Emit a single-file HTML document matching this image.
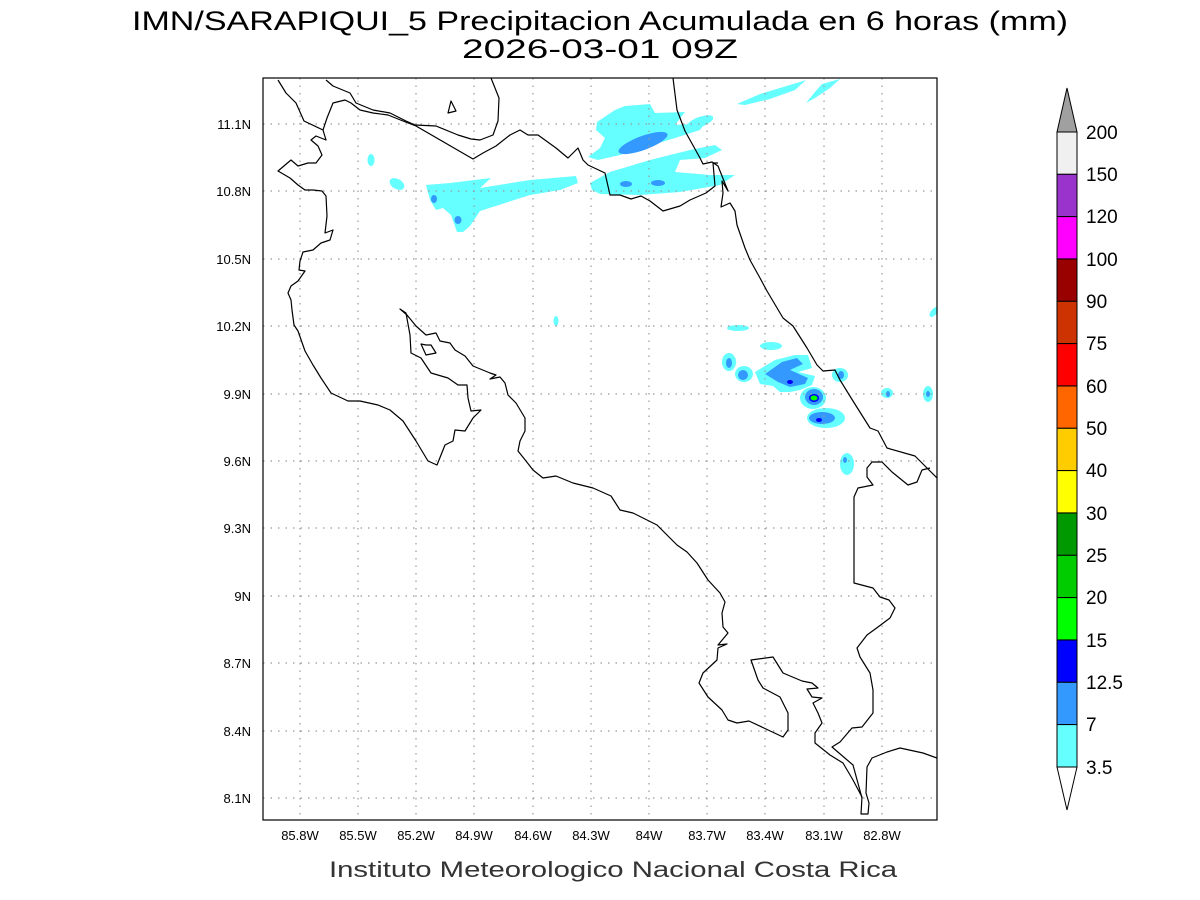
<!DOCTYPE html>
<html><head><meta charset="utf-8"><style>
html,body{margin:0;padding:0;background:#fff;}
svg{display:block;font-family:"Liberation Sans",sans-serif;}
</style></head><body>
<svg width="1200" height="900" viewBox="0 0 1200 900" xmlns="http://www.w3.org/2000/svg">
<rect width="1200" height="900" fill="#fff"/>
<text x="600" y="30" font-size="27" text-anchor="middle" textLength="936" lengthAdjust="spacingAndGlyphs">IMN/SARAPIQUI_5 Precipitacion Acumulada en 6 horas (mm)</text>
<text x="600" y="58" font-size="27" text-anchor="middle" textLength="276" lengthAdjust="spacingAndGlyphs">2026-03-01 09Z</text>

<g clip-path="url(#c)">
<clipPath id="c"><rect x="263" y="78" width="674" height="742"/></clipPath>
<!-- precip -->
<g fill="#66ffff">
<path d="M737,104 L760,94 L800,82 L806,80 L795,90 L770,99 L745,105Z"/>
<path d="M806,103 L815,92 L822,84 L840,79 L830,88 L815,98Z"/>
<path d="M597,122 L615,110 L625,106 L650,104 L655,113 L685,112 L675,125 L705,123 L700,130 L675,138 L620,155 L598,160 L588,157 L600,148 L605,138 L596,130Z"/>
<path d="M590,183 L610,172 L650,160 L690,150 L715,145 L722,150 L705,158 L680,160 L675,172 L710,175 L735,175 L720,185 L680,192 L640,195 L600,194 L592,190Z"/>
<ellipse cx="700" cy="122" rx="14" ry="5" transform="rotate(-20 700 122)"/>
<path d="M426,185 L450,183 L491,178 L480,188 L530,180 L576,176 L578,183 L560,190 L530,195 L480,211 L470,226 L463,232 L457,232 L451,215 L443,208 L436,210 L430,200Z"/>
<ellipse cx="371" cy="160" rx="3.5" ry="6"/>
<ellipse cx="397" cy="184" rx="8" ry="5" transform="rotate(30 397 184)"/>
<ellipse cx="556" cy="321" rx="2.5" ry="5"/>
<ellipse cx="738" cy="328" rx="11" ry="3"/>
<ellipse cx="771" cy="346" rx="11" ry="4"/>
<ellipse cx="729" cy="362" rx="7" ry="9"/>
<ellipse cx="744" cy="374" rx="9" ry="8"/>
<path d="M755,372 L775,360 L795,355 L808,355 L812,368 L798,372 L815,376 L812,385 L800,390 L790,392 L780,392 L773,386 L760,384Z"/>
<ellipse cx="813" cy="398" rx="13" ry="11"/>
<ellipse cx="826" cy="418" rx="19" ry="10"/>
<ellipse cx="840" cy="375" rx="8" ry="7"/>
<ellipse cx="887" cy="393" rx="6" ry="5"/>
<ellipse cx="928" cy="394" rx="5" ry="8"/>
<ellipse cx="847" cy="464" rx="7" ry="11"/>
<ellipse cx="934" cy="312" rx="3" ry="6" transform="rotate(40 934 312)"/>
</g>
<g fill="#3399ff">
<ellipse cx="643" cy="143" rx="26" ry="7" transform="rotate(-20 643 143)"/>
<ellipse cx="626" cy="184" rx="6" ry="3"/>
<ellipse cx="658" cy="183" rx="7" ry="3"/>
<ellipse cx="434" cy="199" rx="3" ry="4"/>
<ellipse cx="458" cy="220" rx="3.5" ry="4"/>
<ellipse cx="729" cy="363" rx="3" ry="5"/>
<ellipse cx="743" cy="375" rx="5" ry="5"/>
<path d="M765,374 L782,362 L797,358 L803,364 L790,370 L808,378 L805,384 L790,387 L778,382Z"/>
<ellipse cx="814" cy="397" rx="9" ry="8"/>
<ellipse cx="822" cy="418" rx="13" ry="6"/>
<ellipse cx="841" cy="375" rx="3" ry="4"/>
<ellipse cx="888" cy="394" rx="2" ry="3"/>
<ellipse cx="928" cy="394" rx="2" ry="3"/>
<ellipse cx="845" cy="460" rx="2" ry="3"/>
</g>
<g fill="#0000ff">
<ellipse cx="790" cy="382" rx="3" ry="2"/>
<ellipse cx="814" cy="398" rx="5" ry="4"/>
<ellipse cx="819" cy="420" rx="3" ry="2"/>
</g>
<ellipse cx="814" cy="398" rx="3.5" ry="2.5" fill="#00ff00"/>

<!-- grid -->
<g stroke="#999" stroke-width="1.2" stroke-dasharray="1.5,6">
<line x1="300" y1="78" x2="300" y2="820"/><line x1="358" y1="78" x2="358" y2="820"/><line x1="416" y1="78" x2="416" y2="820"/><line x1="474" y1="78" x2="474" y2="820"/><line x1="533" y1="78" x2="533" y2="820"/><line x1="591" y1="78" x2="591" y2="820"/><line x1="649" y1="78" x2="649" y2="820"/><line x1="707" y1="78" x2="707" y2="820"/><line x1="765" y1="78" x2="765" y2="820"/><line x1="824" y1="78" x2="824" y2="820"/><line x1="882" y1="78" x2="882" y2="820"/>
<line x1="263" y1="124" x2="937" y2="124"/><line x1="263" y1="191" x2="937" y2="191"/><line x1="263" y1="259" x2="937" y2="259"/><line x1="263" y1="326" x2="937" y2="326"/><line x1="263" y1="394" x2="937" y2="394"/><line x1="263" y1="461" x2="937" y2="461"/><line x1="263" y1="528" x2="937" y2="528"/><line x1="263" y1="596" x2="937" y2="596"/><line x1="263" y1="663" x2="937" y2="663"/><line x1="263" y1="731" x2="937" y2="731"/><line x1="263" y1="798" x2="937" y2="798"/>
</g>

<!-- coasts -->
<g fill="none" stroke="#000" stroke-width="1.2" stroke-linejoin="round">
<polyline points="278,80 286,93 296,103 304,121 323,130 326,140 316,136 311,140 318,146 322,155 316,163 308,163 298,166 291,160 278,171 290,178 298,185 305,190 313,190 322,191 326,196 327,216 325,233 333,230 330,240 321,243 313,250 303,252 300,261 299,270 305,271 298,281 291,286 288,293 291,300 292,310 294,325 298,331 305,351 313,365 321,378 331,393 348,401 360,401 378,405 390,410 403,421 416,441 428,461 437,465 445,445 453,441 455,430 465,431 473,418 481,410 471,411 468,398 467,385 458,385 448,378 431,373 421,358 411,353 410,335 406,313 400,309 407,315 416,326 426,335 436,333 440,341 450,343 455,350 465,356 473,366 490,373 496,375 490,379 500,377 505,383 508,395 516,403 525,418 525,431 520,441 518,451 526,461 533,470 543,478 556,476 573,483 593,488 611,496 620,510 633,513 657,525 677,545 687,552 697,563 708,580 720,593 725,602 722,613 723,627 728,633 718,645 727,644 718,648 717,660 703,673 699,683 708,697 722,710 728,720 737,723 749,721 783,737 788,730 788,713 780,697 763,688 758,680 751,660 773,657 783,673 802,681 812,683 818,688 807,689 812,697 822,698 813,703 818,713 822,723 815,733 815,743 830,755 843,763 853,780 862,797 861,814 868,814 869,803 866,793 867,767 872,758 887,752 900,748 923,753 937,758"/>
<polyline points="862,798 853,765 832,747 840,742 852,728 862,727 873,713 873,690 870,673 860,657 857,648 867,635 878,627 890,618 895,608 889,600 880,597 873,588 854,583 854,497 858,488 873,485 867,477 867,468 872,462 882,462 892,472 908,485 917,482 922,470 930,468"/>
<polyline points="673,78 677,110 685,131 700,158 703,164 712,162 718,166 728,191 722,181 723,193 721,207 730,203 735,211 737,225 745,248 750,260 760,278 767,291 783,318 793,326 807,348 817,365 823,371 835,370 840,380 853,401 870,428 878,431 887,448 915,456 927,468 937,478"/>
<polyline points="323,130 327,118 333,103 345,100 351,103 360,110 373,113 388,115 403,121 416,126 473,159 483,153 496,146 510,135 520,130 528,135 538,135 556,148 568,158 578,148 583,160 588,165 605,173 610,195 620,195 631,199 641,196 650,201 663,211 680,206 690,200 706,193 715,186 713,163 718,163"/>
<polyline points="326,80 333,86 350,93 356,103 373,110 390,113 406,121 415,125 436,126 458,135 471,139 480,140 493,135 498,121 499,98 491,78"/>
<polygon points="448,113 451,101 456,111"/>
<polygon points="421,344 426,345 431,345 436,353 426,355"/>
</g>
</g>
<rect x="263" y="78" width="674" height="742" fill="none" stroke="#000" stroke-width="1.2"/>

<!-- axis labels -->
<g font-size="13" text-anchor="end">
<text x="251" y="129">11.1N</text><text x="251" y="196">10.8N</text><text x="251" y="264">10.5N</text><text x="251" y="331">10.2N</text><text x="251" y="399">9.9N</text><text x="251" y="466">9.6N</text><text x="251" y="533">9.3N</text><text x="251" y="601">9N</text><text x="251" y="668">8.7N</text><text x="251" y="736">8.4N</text><text x="251" y="803">8.1N</text>
</g>
<g font-size="13" text-anchor="middle">
<text x="300" y="840">85.8W</text><text x="358" y="840">85.5W</text><text x="416" y="840">85.2W</text><text x="474" y="840">84.9W</text><text x="533" y="840">84.6W</text><text x="591" y="840">84.3W</text><text x="649" y="840">84W</text><text x="707" y="840">83.7W</text><text x="765" y="840">83.4W</text><text x="824" y="840">83.1W</text><text x="882" y="840">82.8W</text>
</g>
<text x="613" y="877" font-size="22" text-anchor="middle" fill="#333" textLength="568" lengthAdjust="spacingAndGlyphs">Instituto Meteorologico Nacional Costa Rica</text>

<!-- colorbar -->
<g stroke="#000" stroke-width="1">
<polygon points="1057,132 1077,132 1067,88" fill="#a0a0a0"/>
<rect x="1057" y="132" width="20" height="42.3" fill="#f0f0f0"/>
<rect x="1057" y="174.3" width="20" height="42.3" fill="#9933cc"/>
<rect x="1057" y="216.6" width="20" height="42.3" fill="#ff00ff"/>
<rect x="1057" y="259" width="20" height="42.3" fill="#990000"/>
<rect x="1057" y="301.3" width="20" height="42.3" fill="#cc3300"/>
<rect x="1057" y="343.6" width="20" height="42.3" fill="#ff0000"/>
<rect x="1057" y="386" width="20" height="42.3" fill="#ff6600"/>
<rect x="1057" y="428.3" width="20" height="42.3" fill="#ffcc00"/>
<rect x="1057" y="470.6" width="20" height="42.3" fill="#ffff00"/>
<rect x="1057" y="513" width="20" height="42.3" fill="#009900"/>
<rect x="1057" y="555.3" width="20" height="42.3" fill="#00cc00"/>
<rect x="1057" y="597.6" width="20" height="42.3" fill="#00ff00"/>
<rect x="1057" y="640" width="20" height="42.3" fill="#0000ff"/>
<rect x="1057" y="682.3" width="20" height="42.3" fill="#3399ff"/>
<rect x="1057" y="724.6" width="20" height="42.4" fill="#66ffff"/>
<polygon points="1057,767 1077,767 1067,810" fill="#fff"/>
</g>
<g font-size="19">
<text x="1086" y="139">200</text><text x="1086" y="181">150</text><text x="1086" y="223">120</text><text x="1086" y="266">100</text><text x="1086" y="308">90</text><text x="1086" y="350">75</text><text x="1086" y="393">60</text><text x="1086" y="435">50</text><text x="1086" y="477">40</text><text x="1086" y="520">30</text><text x="1086" y="562">25</text><text x="1086" y="604">20</text><text x="1086" y="647">15</text><text x="1086" y="689">12.5</text><text x="1086" y="731">7</text><text x="1086" y="774">3.5</text>
</g>
</svg>
</body></html>
